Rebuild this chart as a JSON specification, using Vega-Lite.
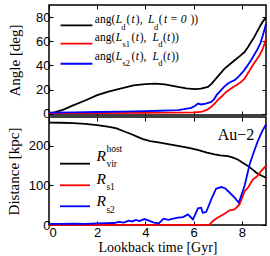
{
  "$schema": "https://vega.github.io/schema/vega-lite/v6.json",
  "padding": {"left": 5, "top": 3, "right": 1, "bottom": 0},
  "spacing": 2,
  "bounds": "flush",
  "config": {
    "view": {"stroke": "black", "strokeWidth": 1.5},
    "axis": {
      "labelFont": "Liberation Sans", "labelFontSize": 13, "labelColor": "black",
      "titleFont": "Liberation Serif", "titleFontSize": 15, "titleFontWeight": "normal", "titleColor": "black",
      "tickColor": "black", "tickSize": -4, "tickWidth": 1, "domain": false, "grid": false, "labelPadding": 3
    },
    "axisX": {"labelPadding": 5},
    "line": {"strokeWidth": 1.8}
  },
  "datasets": {
    "top": [
      {"s":"d","t":0,"v":0},{"s":"d","t":0.3,"v":1.5},{"s":"d","t":0.6,"v":3.5},{"s":"d","t":1.0,"v":7},{"s":"d","t":1.5,"v":11},{"s":"d","t":2.0,"v":15.5},{"s":"d","t":2.5,"v":18.5},{"s":"d","t":3.0,"v":21},{"s":"d","t":3.5,"v":23.5},{"s":"d","t":4.0,"v":24.6},{"s":"d","t":4.4,"v":25},{"s":"d","t":4.8,"v":24.3},{"s":"d","t":5.35,"v":22.3},{"s":"d","t":5.7,"v":21},{"s":"d","t":6.04,"v":20.4},{"s":"d","t":6.3,"v":20.8},{"s":"d","t":6.59,"v":22.3},{"s":"d","t":6.75,"v":25},{"s":"d","t":6.87,"v":27.8},{"s":"d","t":7.05,"v":32},{"s":"d","t":7.28,"v":37.4},{"s":"d","t":7.5,"v":41},{"s":"d","t":7.7,"v":44.3},{"s":"d","t":7.9,"v":47.5},{"s":"d","t":8.11,"v":51.1},{"s":"d","t":8.25,"v":55},{"s":"d","t":8.38,"v":59.4},{"s":"d","t":8.5,"v":63},{"s":"d","t":8.66,"v":69},{"s":"d","t":8.78,"v":73.5},{"s":"d","t":8.87,"v":76.4},{"s":"d","t":8.95,"v":78.5},{"s":"d","t":9.0,"v":79.2},
      {"s":"s1","t":0,"v":0.5},{"s":"s1","t":2,"v":0.6},{"s":"s1","t":4,"v":0.8},{"s":"s1","t":5,"v":0.9},{"s":"s1","t":6,"v":1.1},{"s":"s1","t":6.3,"v":1.5},{"s":"s1","t":6.52,"v":3},{"s":"s1","t":6.62,"v":4.2},{"s":"s1","t":6.73,"v":5.8},{"s":"s1","t":6.87,"v":8.5},{"s":"s1","t":7.0,"v":11.3},{"s":"s1","t":7.17,"v":14.5},{"s":"s1","t":7.35,"v":18.1},{"s":"s1","t":7.55,"v":21},{"s":"s1","t":7.76,"v":23.7},{"s":"s1","t":7.95,"v":26},{"s":"s1","t":8.11,"v":29.1},{"s":"s1","t":8.28,"v":34.5},{"s":"s1","t":8.45,"v":40.2},{"s":"s1","t":8.6,"v":44.5},{"s":"s1","t":8.73,"v":48.4},{"s":"s1","t":8.85,"v":53},{"s":"s1","t":8.94,"v":58},{"s":"s1","t":9.0,"v":62},
      {"s":"s2","t":0,"v":1},{"s":"s2","t":1,"v":1.2},{"s":"s2","t":2,"v":1.5},{"s":"s2","t":3,"v":1.8},{"s":"s2","t":4,"v":2.2},{"s":"s2","t":4.6,"v":2.5},{"s":"s2","t":5.0,"v":2.8},{"s":"s2","t":5.35,"v":3.0},{"s":"s2","t":5.6,"v":3.8},{"s":"s2","t":5.9,"v":4.9},{"s":"s2","t":6.05,"v":6.5},{"s":"s2","t":6.18,"v":8.5},{"s":"s2","t":6.31,"v":7.7},{"s":"s2","t":6.5,"v":8.5},{"s":"s2","t":6.73,"v":9.9},{"s":"s2","t":6.85,"v":12},{"s":"s2","t":6.95,"v":15.5},{"s":"s2","t":7.07,"v":18.1},{"s":"s2","t":7.25,"v":22},{"s":"s2","t":7.42,"v":25},{"s":"s2","t":7.55,"v":26.5},{"s":"s2","t":7.7,"v":27.8},{"s":"s2","t":7.85,"v":30.5},{"s":"s2","t":8.04,"v":34.6},{"s":"s2","t":8.2,"v":39},{"s":"s2","t":8.38,"v":44.3},{"s":"s2","t":8.52,"v":49},{"s":"s2","t":8.66,"v":53.9},{"s":"s2","t":8.77,"v":58.5},{"s":"s2","t":8.87,"v":64.9},{"s":"s2","t":8.95,"v":70.5},{"s":"s2","t":9.0,"v":74.5}
    ],
    "bot": [
      {"s":"d","t":0,"v":259},{"s":"d","t":0.5,"v":258.5},{"s":"d","t":1.0,"v":257.5},{"s":"d","t":1.5,"v":255.5},{"s":"d","t":2.0,"v":252.5},{"s":"d","t":2.5,"v":248},{"s":"d","t":2.8,"v":244},{"s":"d","t":3.1,"v":237},{"s":"d","t":3.4,"v":230},{"s":"d","t":3.7,"v":222},{"s":"d","t":3.9,"v":217},{"s":"d","t":4.2,"v":212},{"s":"d","t":4.6,"v":208},{"s":"d","t":5.0,"v":204},{"s":"d","t":5.35,"v":200},{"s":"d","t":5.8,"v":195},{"s":"d","t":6.2,"v":189},{"s":"d","t":6.55,"v":183},{"s":"d","t":6.87,"v":178.3},{"s":"d","t":7.1,"v":176},{"s":"d","t":7.42,"v":174},{"s":"d","t":7.6,"v":171},{"s":"d","t":7.83,"v":165.7},{"s":"d","t":8.05,"v":157},{"s":"d","t":8.25,"v":149},{"s":"d","t":8.45,"v":140},{"s":"d","t":8.6,"v":132},{"s":"d","t":8.8,"v":125},{"s":"d","t":9.0,"v":119.5},
      {"s":"s1","t":0,"v":0.5},{"s":"s1","t":3,"v":0.5},{"s":"s1","t":6,"v":0.5},{"s":"s1","t":6.65,"v":0.5},{"s":"s1","t":6.8,"v":10},{"s":"s1","t":6.95,"v":17},{"s":"s1","t":7.1,"v":22},{"s":"s1","t":7.28,"v":28.5},{"s":"s1","t":7.49,"v":37},{"s":"s1","t":7.6,"v":38},{"s":"s1","t":7.7,"v":39.4},{"s":"s1","t":7.9,"v":52},{"s":"s1","t":8.11,"v":85},{"s":"s1","t":8.27,"v":96},{"s":"s1","t":8.45,"v":115},{"s":"s1","t":8.61,"v":122},{"s":"s1","t":8.8,"v":136},{"s":"s1","t":9.0,"v":150},
      {"s":"s2","t":0,"v":3},{"s":"s2","t":0.5,"v":3},{"s":"s2","t":1.0,"v":3.5},{"s":"s2","t":1.5,"v":3},{"s":"s2","t":2.0,"v":4},{"s":"s2","t":2.4,"v":4.5},{"s":"s2","t":2.7,"v":5},{"s":"s2","t":2.9,"v":8},{"s":"s2","t":3.1,"v":6},{"s":"s2","t":3.3,"v":11},{"s":"s2","t":3.45,"v":9},{"s":"s2","t":3.6,"v":13},{"s":"s2","t":3.75,"v":10},{"s":"s2","t":3.95,"v":15},{"s":"s2","t":4.15,"v":11},{"s":"s2","t":4.35,"v":6},{"s":"s2","t":4.55,"v":4},{"s":"s2","t":4.75,"v":16},{"s":"s2","t":4.95,"v":13},{"s":"s2","t":5.15,"v":16},{"s":"s2","t":5.35,"v":18.4},{"s":"s2","t":5.56,"v":20},{"s":"s2","t":5.76,"v":26.8},{"s":"s2","t":5.97,"v":14},{"s":"s2","t":6.18,"v":42},{"s":"s2","t":6.31,"v":43.7},{"s":"s2","t":6.38,"v":31},{"s":"s2","t":6.52,"v":32.8},{"s":"s2","t":6.73,"v":64.6},{"s":"s2","t":6.93,"v":91.7},{"s":"s2","t":7.14,"v":96},{"s":"s2","t":7.3,"v":93},{"s":"s2","t":7.42,"v":85.9},{"s":"s2","t":7.7,"v":69},{"s":"s2","t":7.87,"v":56.3},{"s":"s2","t":8.11,"v":98.5},{"s":"s2","t":8.32,"v":153},{"s":"s2","t":8.5,"v":185},{"s":"s2","t":8.66,"v":212},{"s":"s2","t":8.85,"v":238},{"s":"s2","t":9.0,"v":254}
    ],
    "tleg": [
      {"s":"d","x1":0.48,"x2":1.8,"y":73.2},
      {"s":"s1","x1":0.48,"x2":1.8,"y":58.0},
      {"s":"s2","x1":0.48,"x2":1.8,"y":41.4}
    ],
    "bleg": [
      {"s":"d","x1":0.455,"x2":1.7,"y":155},
      {"s":"s1","x1":0.455,"x2":1.7,"y":100.4},
      {"s":"s2","x1":0.455,"x2":1.7,"y":47.3}
    ],
    "ttxt": [
      {"k":"n","x":1.90,"y":74.9,"txt":"ang("},{"k":"i","x":2.77,"y":74.9,"txt":"L"},{"k":"s","x":3.00,"y":69.6,"txt":"d"},{"k":"n","x":3.21,"y":74.9,"txt":"("},{"k":"i","x":3.42,"y":74.9,"txt":"t"},{"k":"n","x":3.60,"y":74.9,"txt":"),"},{"k":"i","x":4.11,"y":74.9,"txt":"L"},{"k":"s","x":4.36,"y":69.6,"txt":"d"},{"k":"n","x":4.55,"y":74.9,"txt":"("},{"k":"i","x":4.77,"y":74.9,"txt":"t = 0"},{"k":"n","x":5.87,"y":74.9,"txt":"))"},
      {"k":"n","x":1.90,"y":60.0,"txt":"ang("},{"k":"i","x":2.77,"y":60.0,"txt":"L"},{"k":"s","x":3.05,"y":55.0,"txt":"s1"},{"k":"n","x":3.42,"y":60.0,"txt":"("},{"k":"i","x":3.60,"y":60.0,"txt":"t"},{"k":"n","x":3.76,"y":60.0,"txt":"),"},{"k":"i","x":4.29,"y":60.0,"txt":"L"},{"k":"s","x":4.53,"y":55.0,"txt":"d"},{"k":"n","x":4.73,"y":60.0,"txt":"("},{"k":"i","x":4.89,"y":60.0,"txt":"t"},{"k":"n","x":5.07,"y":60.0,"txt":"))"},
      {"k":"n","x":1.90,"y":44.5,"txt":"ang("},{"k":"i","x":2.77,"y":44.5,"txt":"L"},{"k":"s","x":3.05,"y":39.3,"txt":"s2"},{"k":"n","x":3.42,"y":44.5,"txt":"("},{"k":"i","x":3.60,"y":44.5,"txt":"t"},{"k":"n","x":3.76,"y":44.5,"txt":"),"},{"k":"i","x":4.29,"y":44.5,"txt":"L"},{"k":"s","x":4.53,"y":39.3,"txt":"d"},{"k":"n","x":4.73,"y":44.5,"txt":"("},{"k":"i","x":4.89,"y":44.5,"txt":"t"},{"k":"n","x":5.07,"y":44.5,"txt":"))"}
    ],
    "btxt": [
      {"k":"i","x":1.97,"y":161,"txt":"R"},{"k":"s","x":2.38,"y":184.5,"txt":"host"},{"k":"s","x":2.38,"y":146.6,"txt":"vir"},
      {"k":"i","x":1.97,"y":102.9,"txt":"R"},{"k":"s","x":2.38,"y":87.7,"txt":"s1"},
      {"k":"i","x":1.97,"y":47.3,"txt":"R"},{"k":"s","x":2.38,"y":31.1,"txt":"s2"},
      {"k":"n","x":7.0,"y":214.9,"txt":"Au−2"}
    ]
  },
  "vconcat": [
    {
      "width": 217, "height": 110,
      "resolve": {"axis": {"x": "independent", "y": "independent"}},
      "layer": [
        {
          "data": {"name": "top"},
          "mark": {"type": "line"},
          "encoding": {
            "x": {"field": "t", "type": "quantitative", "scale": {"domain": [0, 9], "nice": false}, "axis": {"orient": "bottom", "values": [0,2,4,6,8], "labels": false, "title": null}},
            "y": {"field": "v", "type": "quantitative", "scale": {"domain": [-1, 90], "nice": false, "zero": false}, "axis": {"orient": "left", "values": [0,20,40,60,80], "title": "Angle [deg]", "titlePadding": 13}},
            "color": {"field": "s", "type": "nominal", "scale": {"domain": ["d","s1","s2"], "range": ["#000000","#ff0000","#0000ff"]}, "legend": null},
            "order": {"field": "t", "type": "quantitative"}
          }
        },
        {
          "data": {"name": "top"},
          "mark": {"type": "line", "opacity": 0},
          "encoding": {
            "x": {"field": "t", "type": "quantitative", "axis": {"orient": "top", "values": [0,2,4,6,8], "labels": false, "title": null}},
            "y": {"field": "v", "type": "quantitative", "axis": {"orient": "right", "values": [0,20,40,60,80], "labels": false, "title": null}}
          }
        },
        {
          "data": {"name": "tleg"},
          "mark": {"type": "rule", "strokeWidth": 1.8},
          "encoding": {
            "x": {"field": "x1", "type": "quantitative", "axis": null},
            "x2": {"field": "x2"},
            "y": {"field": "y", "type": "quantitative", "axis": null},
            "color": {"field": "s", "type": "nominal", "legend": null}
          }
        },
        {
          "data": {"name": "ttxt"},
          "transform": [{"filter": "datum.k === 'n'"}],
          "mark": {"type": "text", "font": "Liberation Serif", "fontSize": 11.5, "align": "left", "baseline": "alphabetic", "color": "black"},
          "encoding": {"x": {"field": "x", "type": "quantitative", "axis": null}, "y": {"field": "y", "type": "quantitative", "axis": null}, "text": {"field": "txt"}}
        },
        {
          "data": {"name": "ttxt"},
          "transform": [{"filter": "datum.k === 'i'"}],
          "mark": {"type": "text", "font": "Liberation Serif", "fontSize": 11.5, "fontStyle": "italic", "align": "left", "baseline": "alphabetic", "color": "black"},
          "encoding": {"x": {"field": "x", "type": "quantitative", "axis": null}, "y": {"field": "y", "type": "quantitative", "axis": null}, "text": {"field": "txt"}}
        },
        {
          "data": {"name": "ttxt"},
          "transform": [{"filter": "datum.k === 's'"}],
          "mark": {"type": "text", "font": "Liberation Serif", "fontSize": 8.5, "align": "left", "baseline": "alphabetic", "color": "black"},
          "encoding": {"x": {"field": "x", "type": "quantitative", "axis": null}, "y": {"field": "y", "type": "quantitative", "axis": null}, "text": {"field": "txt"}}
        }
      ]
    },
    {
      "width": 217, "height": 108,
      "resolve": {"axis": {"x": "independent", "y": "independent"}},
      "layer": [
        {
          "data": {"name": "bot"},
          "mark": {"type": "line"},
          "encoding": {
            "x": {"field": "t", "type": "quantitative", "scale": {"domain": [0, 9], "nice": false}, "axis": {"orient": "bottom", "values": [0,2,4,6,8], "title": "Lookback time [Gyr]", "titlePadding": 1, "titleFontSize": 14}},
            "y": {"field": "v", "type": "quantitative", "scale": {"domain": [0, 273], "nice": false}, "axis": {"orient": "left", "values": [0,100,200], "title": "Distance [kpc]", "titlePadding": 7}},
            "color": {"field": "s", "type": "nominal", "scale": {"domain": ["d","s1","s2"], "range": ["#000000","#ff0000","#0000ff"]}, "legend": null},
            "order": {"field": "t", "type": "quantitative"}
          }
        },
        {
          "data": {"name": "bot"},
          "mark": {"type": "line", "opacity": 0},
          "encoding": {
            "x": {"field": "t", "type": "quantitative", "axis": {"orient": "top", "values": [0,2,4,6,8], "labels": false, "title": null}},
            "y": {"field": "v", "type": "quantitative", "axis": {"orient": "right", "values": [0,100,200], "labels": false, "title": null}}
          }
        },
        {
          "data": {"name": "bleg"},
          "mark": {"type": "rule", "strokeWidth": 1.8},
          "encoding": {
            "x": {"field": "x1", "type": "quantitative", "axis": null},
            "x2": {"field": "x2"},
            "y": {"field": "y", "type": "quantitative", "axis": null},
            "color": {"field": "s", "type": "nominal", "legend": null}
          }
        },
        {
          "data": {"name": "btxt"},
          "transform": [{"filter": "datum.k === 'n'"}],
          "mark": {"type": "text", "font": "Liberation Serif", "fontSize": 16, "align": "left", "baseline": "alphabetic", "color": "black"},
          "encoding": {"x": {"field": "x", "type": "quantitative", "axis": null}, "y": {"field": "y", "type": "quantitative", "axis": null}, "text": {"field": "txt"}}
        },
        {
          "data": {"name": "btxt"},
          "transform": [{"filter": "datum.k === 'i'"}],
          "mark": {"type": "text", "font": "Liberation Serif", "fontSize": 15.5, "fontStyle": "italic", "align": "left", "baseline": "alphabetic", "color": "black"},
          "encoding": {"x": {"field": "x", "type": "quantitative", "axis": null}, "y": {"field": "y", "type": "quantitative", "axis": null}, "text": {"field": "txt"}}
        },
        {
          "data": {"name": "btxt"},
          "transform": [{"filter": "datum.k === 's'"}],
          "mark": {"type": "text", "font": "Liberation Serif", "fontSize": 9.5, "align": "left", "baseline": "alphabetic", "color": "black"},
          "encoding": {"x": {"field": "x", "type": "quantitative", "axis": null}, "y": {"field": "y", "type": "quantitative", "axis": null}, "text": {"field": "txt"}}
        }
      ]
    }
  ]
}
